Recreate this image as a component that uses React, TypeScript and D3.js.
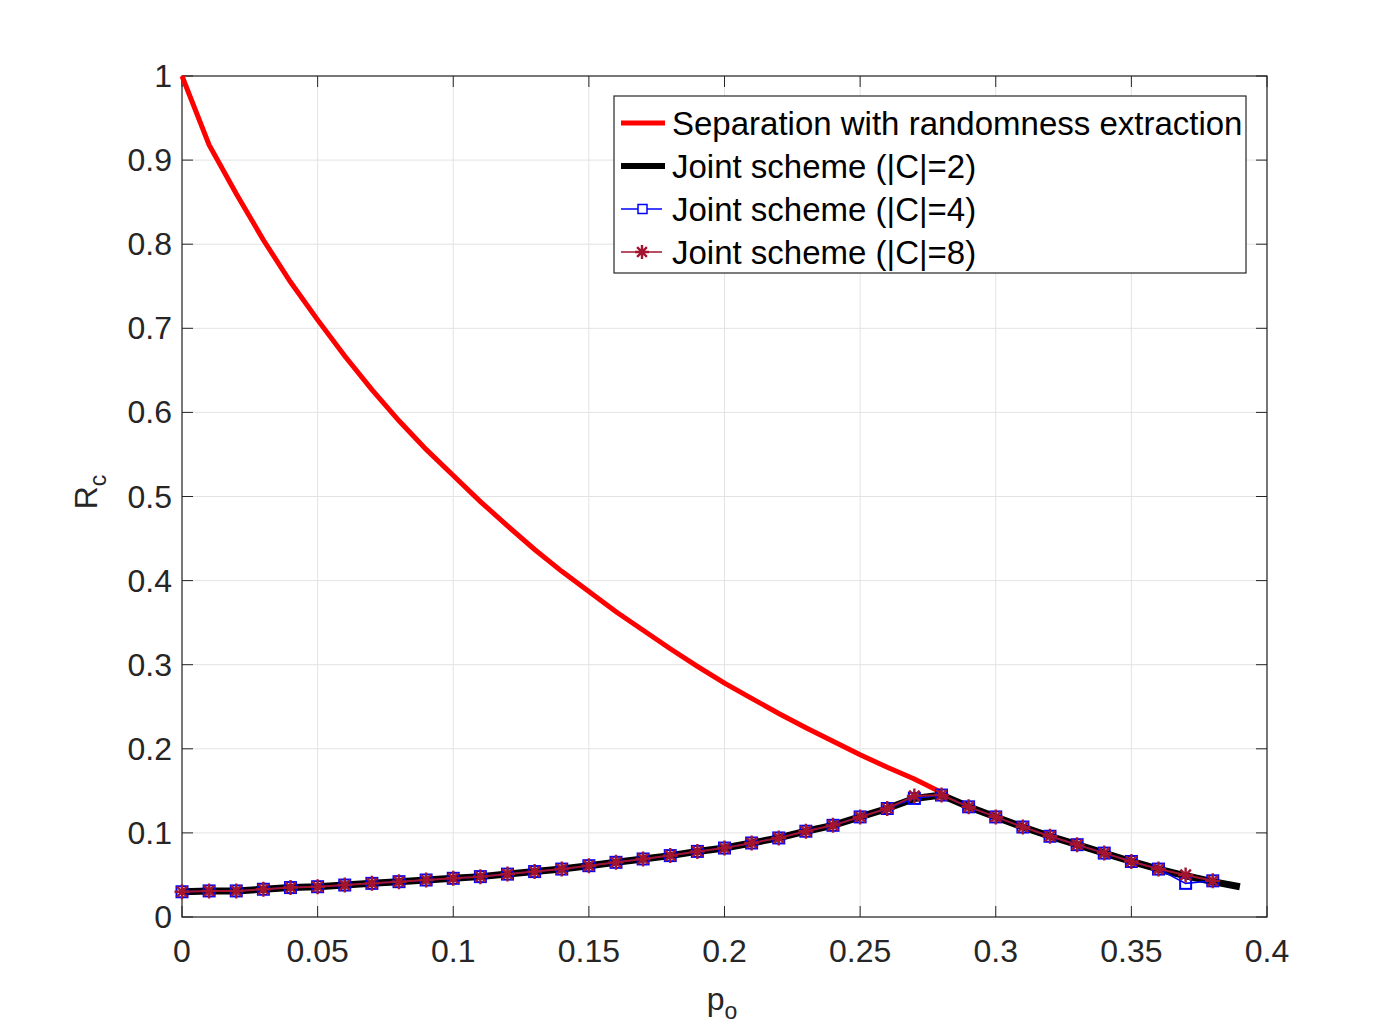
import { useEffect, useRef } from 'react';
import * as d3 from 'd3';

// p_o sampled every 0.01
const sepX = d3.range(0, 29).map(i => i / 100);
const sepY = [1, 0.918, 0.86, 0.805, 0.755, 0.71, 0.667, 0.627, 0.59, 0.556, 0.525,
  0.494, 0.465, 0.437, 0.411, 0.387, 0.363, 0.341, 0.319, 0.298, 0.278,
  0.26, 0.242, 0.225, 0.209, 0.193, 0.178, 0.164, 0.148];

const jointX = d3.range(0, 40).map(i => i / 100);
const joint2 = [0.030, 0.031, 0.031, 0.033, 0.035, 0.036, 0.038, 0.040, 0.042, 0.044,
  0.046, 0.048, 0.051, 0.054, 0.057, 0.061, 0.065, 0.069, 0.073, 0.078,
  0.082, 0.088, 0.094, 0.102, 0.109, 0.119, 0.129, 0.141, 0.145, 0.131,
  0.119, 0.107, 0.096, 0.086, 0.076, 0.066, 0.057, 0.049, 0.042, 0.036];
const markX = d3.range(0, 39).map(i => i / 100);
const joint4 = [0.030, 0.031, 0.031, 0.033, 0.035, 0.036, 0.038, 0.040, 0.042, 0.044,
  0.046, 0.048, 0.051, 0.054, 0.057, 0.061, 0.065, 0.069, 0.073, 0.078,
  0.082, 0.088, 0.094, 0.102, 0.109, 0.119, 0.129, 0.141, 0.145, 0.131,
  0.119, 0.107, 0.096, 0.086, 0.076, 0.066, 0.057, 0.040, 0.043];
const joint8 = [0.030, 0.031, 0.031, 0.033, 0.035, 0.036, 0.038, 0.040, 0.042, 0.044,
  0.046, 0.048, 0.051, 0.054, 0.057, 0.061, 0.065, 0.069, 0.073, 0.078,
  0.082, 0.088, 0.094, 0.102, 0.109, 0.119, 0.129, 0.144, 0.145, 0.131,
  0.119, 0.107, 0.096, 0.086, 0.076, 0.066, 0.057, 0.050, 0.043];

const xTicks = [0, 0.05, 0.1, 0.15, 0.2, 0.25, 0.3, 0.35, 0.4];
const yTicks = [0, 0.1, 0.2, 0.3, 0.4, 0.5, 0.6, 0.7, 0.8, 0.9, 1];
const legendLabels = ['Separation with randomness extraction', 'Joint scheme (|C|=2)',
  'Joint scheme (|C|=4)', 'Joint scheme (|C|=8)'];

const RED = '#ff0000';
const BLUE = '#0000ff';
const STAR = '#a2142f';
const FONT = 'Arial, "Liberation Sans", Helvetica, sans-serif';

export default function App() {
  const ref = useRef<SVGSVGElement>(null);

  useEffect(() => {
    const svg = d3.select(ref.current);
    svg.selectAll('*').remove();

    const left = 182, right = 1267, top = 76, bottom = 917;
    const x = d3.scaleLinear().domain([0, 0.4]).range([left, right]);
    const y = d3.scaleLinear().domain([0, 1]).range([bottom, top]);

    svg.append('rect').attr('width', 1398).attr('height', 1030).attr('fill', '#fff');

    // grid
    const g = svg.append('g');
    g.selectAll('.gx').data(xTicks).enter().append('line')
      .attr('x1', d => x(d)).attr('x2', d => x(d)).attr('y1', top).attr('y2', bottom)
      .attr('stroke', '#e3e3e3').attr('stroke-width', 1);
    g.selectAll('.gy').data(yTicks).enter().append('line')
      .attr('y1', d => y(d)).attr('y2', d => y(d)).attr('x1', left).attr('x2', right)
      .attr('stroke', '#e3e3e3').attr('stroke-width', 1);

    // box + ticks
    const axisColor = '#262626';
    const tickLen = 11;
    const ax = svg.append('g');
    ax.selectAll('.tx').data(xTicks).enter().append('line')
      .attr('x1', d => x(d)).attr('x2', d => x(d)).attr('y1', bottom).attr('y2', bottom - tickLen)
      .attr('stroke', axisColor);
    ax.selectAll('.tx2').data(xTicks).enter().append('line')
      .attr('x1', d => x(d)).attr('x2', d => x(d)).attr('y1', top).attr('y2', top + tickLen)
      .attr('stroke', axisColor);
    ax.selectAll('.ty').data(yTicks).enter().append('line')
      .attr('y1', d => y(d)).attr('y2', d => y(d)).attr('x1', left).attr('x2', left + tickLen)
      .attr('stroke', axisColor);
    ax.selectAll('.ty2').data(yTicks).enter().append('line')
      .attr('y1', d => y(d)).attr('y2', d => y(d)).attr('x1', right).attr('x2', right - tickLen)
      .attr('stroke', axisColor);
    ax.append('rect').attr('x', left).attr('y', top).attr('width', right - left).attr('height', bottom - top)
      .attr('fill', 'none').attr('stroke', axisColor).attr('stroke-width', 1.2);

    ax.selectAll('.lx').data(xTicks).enter().append('text')
      .attr('x', d => x(d)).attr('y', bottom + 45).attr('text-anchor', 'middle')
      .attr('font-family', FONT).attr('font-size', 32).attr('fill', axisColor)
      .text(d => String(d));
    ax.selectAll('.ly').data(yTicks).enter().append('text')
      .attr('x', left - 10).attr('y', d => y(d) + 11).attr('text-anchor', 'end')
      .attr('font-family', FONT).attr('font-size', 32).attr('fill', axisColor)
      .text(d => String(d));

    // axis labels
    const xl = svg.append('text').attr('x', 722).attr('y', 1010).attr('text-anchor', 'middle')
      .attr('font-family', FONT).attr('font-size', 32).attr('fill', axisColor);
    xl.append('tspan').text('p');
    xl.append('tspan').attr('font-size', 23).attr('dy', 9).text('o');
    const yl = svg.append('text').attr('transform', 'translate(97,492) rotate(-90)')
      .attr('text-anchor', 'middle')
      .attr('font-family', FONT).attr('font-size', 32).attr('fill', axisColor);
    yl.append('tspan').text('R');
    yl.append('tspan').attr('font-size', 23).attr('dy', 9).text('c');

    const line = d3.line<[number, number]>().x(d => x(d[0])).y(d => y(d[1]));

    // series
    svg.append('path').datum(sepX.map((v, i) => [v, sepY[i]] as [number, number]))
      .attr('d', line).attr('fill', 'none').attr('stroke', RED).attr('stroke-width', 5);
    svg.append('path').datum(jointX.map((v, i) => [v, joint2[i]] as [number, number]))
      .attr('d', line).attr('fill', 'none').attr('stroke', '#000').attr('stroke-width', 7);
    svg.append('path').datum(markX.map((v, i) => [v, joint4[i]] as [number, number]))
      .attr('d', line).attr('fill', 'none').attr('stroke', BLUE).attr('stroke-width', 1.5);
    svg.selectAll('.sq').data(markX).enter().append('rect')
      .attr('x', (d) => x(d) - 5.5).attr('y', (d, i) => y(joint4[i]) - 5.5)
      .attr('width', 11).attr('height', 11).attr('fill', 'none').attr('stroke', BLUE).attr('stroke-width', 2);
    svg.append('path').datum(markX.map((v, i) => [v, joint8[i]] as [number, number]))
      .attr('d', line).attr('fill', 'none').attr('stroke', STAR).attr('stroke-width', 2);

    const star = (gg: any, cx: number, cy: number, r: number) => {
      return gg.append('path')
        .attr('d', `M${cx - r},${cy}L${cx + r},${cy}M${cx},${cy - r}L${cx},${cy + r}` +
          `M${cx - r * 0.7},${cy - r * 0.7}L${cx + r * 0.7},${cy + r * 0.7}` +
          `M${cx - r * 0.7},${cy + r * 0.7}L${cx + r * 0.7},${cy - r * 0.7}`)
        .attr('stroke', STAR).attr('stroke-width', 2.4).attr('fill', 'none');
    };
    const sg = svg.append('g');
    markX.forEach((d, i) => star(sg, x(d), y(joint8[i]), 7.5));

    // legend
    const lg = svg.append('g');
    lg.append('rect').attr('x', 614).attr('y', 96).attr('width', 632).attr('height', 177)
      .attr('fill', '#fff').attr('stroke', '#262626').attr('stroke-width', 1.2);
    const rows = [123, 166, 209, 252];
    legendLabels.forEach((lab, i) => {
      const yy = rows[i];
      if (i === 0) {
        lg.append('line').attr('x1', 621).attr('x2', 665).attr('y1', yy).attr('y2', yy)
          .attr('stroke', RED).attr('stroke-width', 5);
      } else if (i === 1) {
        lg.append('line').attr('x1', 621).attr('x2', 665).attr('y1', yy).attr('y2', yy)
          .attr('stroke', '#000').attr('stroke-width', 6);
      } else if (i === 2) {
        lg.append('line').attr('x1', 621).attr('x2', 662).attr('y1', yy).attr('y2', yy)
          .attr('stroke', BLUE).attr('stroke-width', 1.5);
        lg.append('rect').attr('x', 638).attr('y', yy - 4.5).attr('width', 9).attr('height', 9)
          .attr('fill', '#fff').attr('stroke', BLUE).attr('stroke-width', 1.5);
      } else {
        lg.append('line').attr('x1', 621).attr('x2', 662).attr('y1', yy).attr('y2', yy)
          .attr('stroke', STAR).attr('stroke-width', 1.5);
        star(lg, 642, yy, 7);
      }
      lg.append('text').attr('x', 672).attr('y', yy + 12)
        .attr('font-family', FONT).attr('font-size', 33).attr('fill', '#000')
        .text(lab);
    });
  }, []);

  return <svg ref={ref} width={1398} height={1030} style={{ display: 'block', margin: -8 }} />;
}
